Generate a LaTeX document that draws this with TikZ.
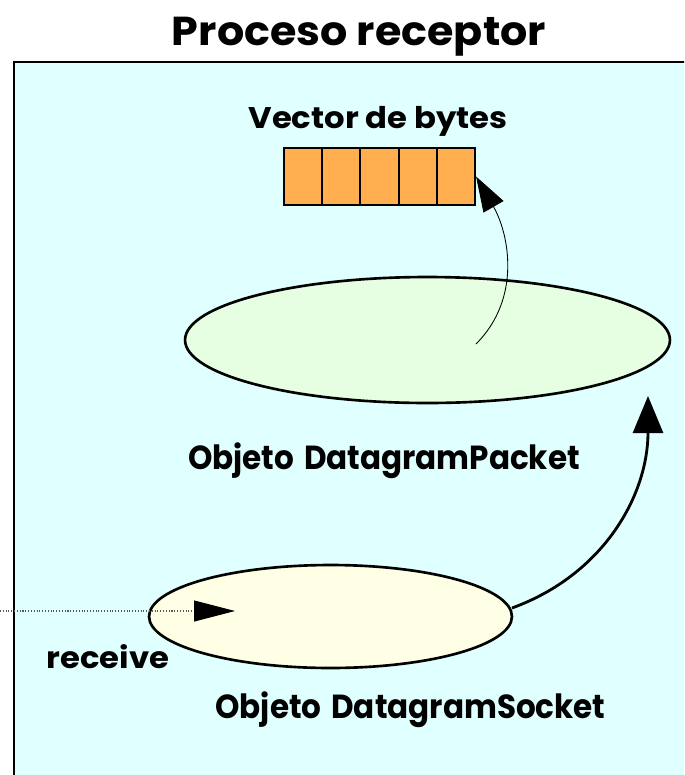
\documentclass[tikz,border=0pt]{standalone}
\usepackage{fontspec}
\setmainfont{Poppins}
\newfontfamily\titlefont{Poppins}[FakeStretch=1.06]
\newfontfamily\objfont{Poppins}[FakeStretch=0.93,WordSpace=1.5]
\newfontfamily\wordfont{Poppins}[FakeStretch=1.08]
\usepackage{xcolor}
\usepackage{tikz}
\usetikzlibrary{shapes.geometric,arrows.meta}

\definecolor{procbg}{HTML}{E0FFFF}
\definecolor{packetfill}{HTML}{E6FFE3}
\definecolor{socketfill}{HTML}{FFFFE6}
\definecolor{bytefill}{HTML}{FFAF4F}

\begin{document}
\begin{tikzpicture}[x=0.02cm,y=-0.02cm,
    objeto/.style={ellipse,draw,line width=1.5pt,inner sep=0pt},
    celda/.style={rectangle,draw,line width=1.2pt,fill=bytefill,inner sep=0pt,
        minimum width=0.764cm,minimum height=1.14cm},
    rotulo/.style={anchor=base,font=\objfont\bfseries\fontsize{19}{22}\selectfont}]
\useasboundingbox (0,0) rectangle (684,775);
\clip (0,0) rectangle (684,775);

% Draw process box and title
\draw[line width=1.5pt,fill=procbg] (14,62) rectangle (720,820);
\node[rotulo,font=\titlefont\bfseries\fontsize{23}{27}\selectfont] (titulo) at (359,45) {Proceso receptor};

% Draw byte vector
\node[rotulo,font=\wordfont\bfseries\fontsize{17}{20}\selectfont] (vectorlbl) at (378,128) {Vector de bytes};
\foreach \i in {1,...,5} {
    \node[celda] (byte\i) at (284 + 38.2*\i - 19.1, 176.5) {};
}

% Draw objects
\node[objeto,fill=packetfill,minimum width=9.7cm,minimum height=2.52cm] (packet) at (427.5,340) {};
\node[rotulo] (packetlbl) at (384,469) {Objeto DatagramPacket};
\node[objeto,fill=socketfill,minimum width=7.26cm,minimum height=2.06cm] (socket) at (330.5,616.5) {};
\node[rotulo] (socketlbl) at (410.5,718) {Objeto DatagramSocket};

% Draw receive call
\coordinate (recvin) at (0,611);
\coordinate (recvend) at (235,611);
\draw[densely dotted,line width=0.6pt,gray!70!black,-{Triangle[length=0.82cm,width=0.42cm,color=black]}] (recvin) -- (recvend);
\node[rotulo,font=\wordfont\bfseries\fontsize{17}{20}\selectfont] (recvlbl) at (108,668) {receive};

% Draw data flow
\coordinate (bufstart) at (476,344);
\draw[line width=0.5pt,-{Triangle[length=0.7cm,width=0.46cm]}] (bufstart) to[out=45,in=-60] (byte5.east);
\coordinate (sockout) at (512,608);
\coordinate (packin) at (648,396);
\draw[line width=1.6pt,-{Triangle[length=0.74cm,width=0.6cm]}] (sockout) to[out=20,in=-90] (packin);
\end{tikzpicture}
\end{document}
